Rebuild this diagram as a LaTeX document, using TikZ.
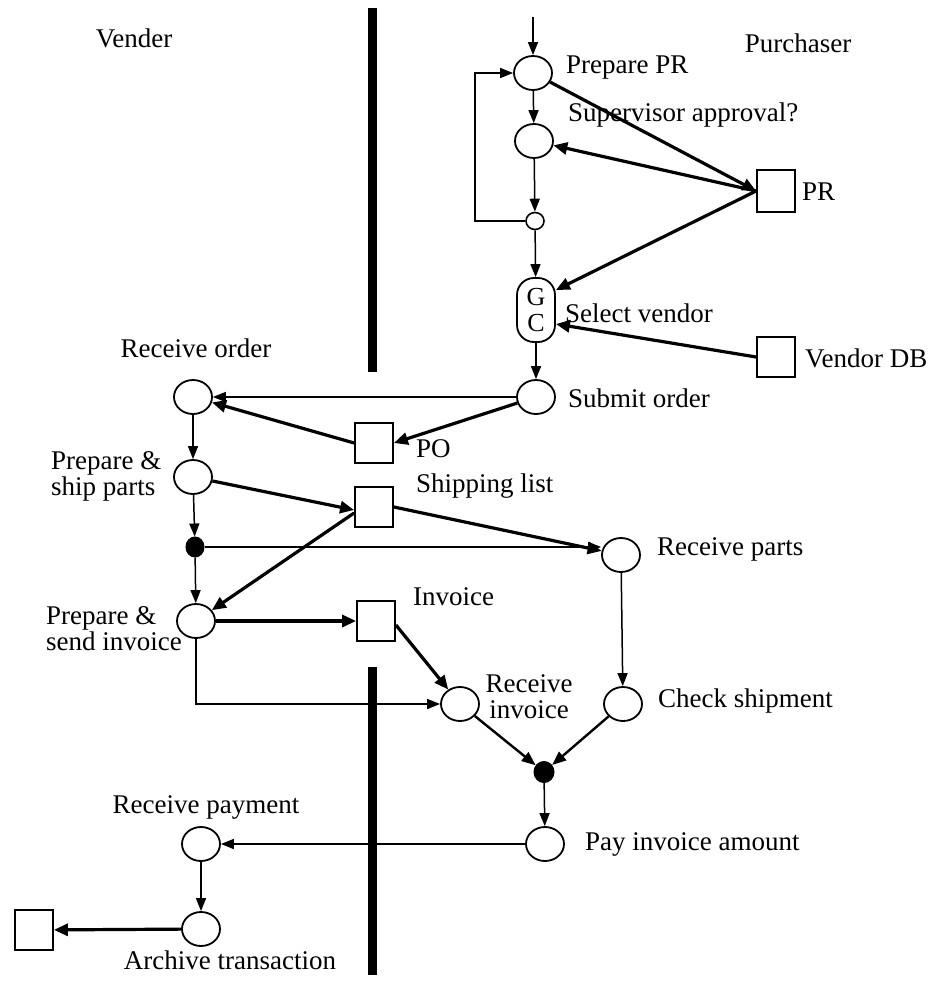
\documentclass[tikz,border=0pt]{standalone}
\usepackage{fontspec}
\setmainfont{Liberation Serif}
\usetikzlibrary{arrows.meta,shapes.geometric}
\begin{document}
\begin{tikzpicture}[x=1pt,y=-1pt,
  every node/.style={font=\fontsize{27}{26}\selectfont},
  place/.style={draw,ellipse,line width=1.8pt,minimum width=38pt,minimum height=34pt,inner sep=0pt},
  store/.style={draw,rectangle,line width=1.8pt,minimum width=38pt,minimum height=40pt,inner sep=0pt},
  blob/.style={draw,fill=black,ellipse,line width=1pt,minimum width=18pt,minimum height=20pt,inner sep=0pt},
  flowln/.style={line width=1.5pt,-{Triangle[length=13pt,width=10pt]}},
  dataln/.style={line width=3.2pt,-{Triangle[length=14pt,width=12pt]}},
  midln/.style={line width=2.4pt,-{Triangle[length=14pt,width=11pt]}},
  lbl/.style={inner sep=0pt}]
\useasboundingbox (0,0) rectangle (936,982);
% swimlane bars
\fill (368,8) rectangle (377,372);
\fill (368,667) rectangle (377,975);
% lane titles
\node[lbl] (tVender) at (134,38) {Vender};
\node[lbl] (tPurch) at (798,43) {Purchaser};
% places
\node[place] (prepPR) at (533,73) {};
\node[place] (superv) at (534,141) {};
\node[draw,ellipse,line width=1.6pt,minimum width=18pt,minimum height=17pt,inner sep=0pt] (small) at (535,221) {};
\node[draw,rectangle,rounded corners=17pt,line width=1.8pt,minimum width=38pt,minimum height=64pt,inner sep=0pt,align=center,font=\fontsize{26}{26}\selectfont] (gc) at (536,310) {G\\C};
\node[place] (submit) at (536,397) {};
\node[place] (recvOrder) at (193,397) {};
\node[place] (prepShip) at (193,477) {};
\node[blob] (dot1) at (195,547) {};
\node[place] (prepSend) at (196,621) {};
\node[place] (recvParts) at (621,555) {};
\node[place] (recvInv) at (460,704) {};
\node[place] (checkShip) at (623,704) {};
\node[blob,minimum width=20pt,minimum height=21pt] (dot2) at (544,772) {};
\node[place] (pay) at (545,844) {};
\node[place] (recvPay) at (201,844) {};
\node[place] (archive) at (201,929) {};
% stores
\node[store,minimum height=42pt] (PR) at (776,191) {};
\node[store] (vdb) at (776,357) {};
\node[store] (po) at (374,443) {};
\node[store] (sl) at (374,507) {};
\node[store] (inv) at (376,621) {};
\node[store] (archsq) at (34,930) {};
% labels
\node[lbl,anchor=west] (lPrepPR) at (566,68) {Prepare PR};
\node[lbl,anchor=west] (lSuperv) at (568,115) {Supervisor approval?};
\node[lbl,anchor=west] (lPR) at (802,192) {PR};
\node[lbl,anchor=west] (lSel) at (565,313) {Select vendor};
\node[lbl,anchor=west] (lVdb) at (805,358) {Vendor DB};
\node[lbl] (lRecvOrder) at (196,348) {Receive order};
\node[lbl,anchor=west] (lSubmit) at (568,398) {Submit order};
\node[lbl,anchor=west] (lPO) at (416,449) {PO};
\node[lbl,anchor=west] (lSL) at (416,486) {Shipping list};
\node[lbl,anchor=west,align=left] (lPrepShip) at (51,476) {Prepare \&\\ship parts};
\node[lbl,anchor=west] (lRecvParts) at (657,549) {Receive parts};
\node[lbl,anchor=west,align=left] (lPrepSend) at (46,629) {Prepare \&\\send invoice};
\node[lbl,anchor=west] (lInv) at (413,597) {Invoice};
\node[lbl,align=center] (lRecvInv) at (529,697) {Receive\\invoice};
\node[lbl,anchor=west] (lCheck) at (658,701) {Check shipment};
\node[lbl] (lRecvPay) at (206,807) {Receive payment};
\node[lbl,anchor=west] (lPay) at (585,844) {Pay invoice amount};
\node[lbl] (lArch) at (230,960) {Archive transaction};
% control flow
\coordinate (start) at (533,17);
\coordinate (lp) at (475,221);
\draw[flowln] (start) -- (prepPR);
\draw[flowln] (prepPR) -- (superv);
\draw[flowln] (superv) -- (small);
\draw[flowln] (small.west) -- (lp) |- (prepPR.west);
\draw[flowln] (small) -- (gc);
\draw[flowln] (gc) -- (submit);
\draw[flowln] (submit.west) -- (recvOrder.east);
\draw[flowln] (recvOrder) -- (prepShip);
\draw[flowln] (prepShip) -- (dot1);
\draw[flowln] (dot1.east) -- (dot1.east -| recvParts.west);
\draw[flowln] (dot1) -- (prepSend);
\draw[flowln] (prepSend.south) |- (recvInv.west);
\draw[flowln] (recvParts) -- (checkShip);
\draw[flowln] (dot2) -- (pay);
\draw[flowln] (pay.west) -- (recvPay.east);
\draw[flowln] (recvPay) -- (archive);
% data flow
\draw[dataln] (prepPR) -- (PR.west);
\draw[dataln] (PR.west) -- (superv);
\draw[dataln] (PR.west) -- ([yshift=20pt]gc.east);
\draw[dataln] (vdb.west) -- ([yshift=-14pt]gc.east);
\draw[dataln] (submit) -- (po.east);
\draw[dataln] (po.west) -- (recvOrder);
\draw[dataln] (prepShip) -- ([yshift=-3pt]sl.west);
\draw[dataln] (sl.east) -- (recvParts);
\draw[dataln] ([yshift=-6pt]sl.west) -- (prepSend);
\draw[dataln] (prepSend) -- (inv.west);
\draw[dataln] ([yshift=-4pt]inv.east) -- (recvInv);
\draw[midln] (recvInv) -- (dot2);
\draw[midln] (checkShip) -- (dot2);
\draw[dataln] (archive) -- (archsq);
\end{tikzpicture}
\end{document}
